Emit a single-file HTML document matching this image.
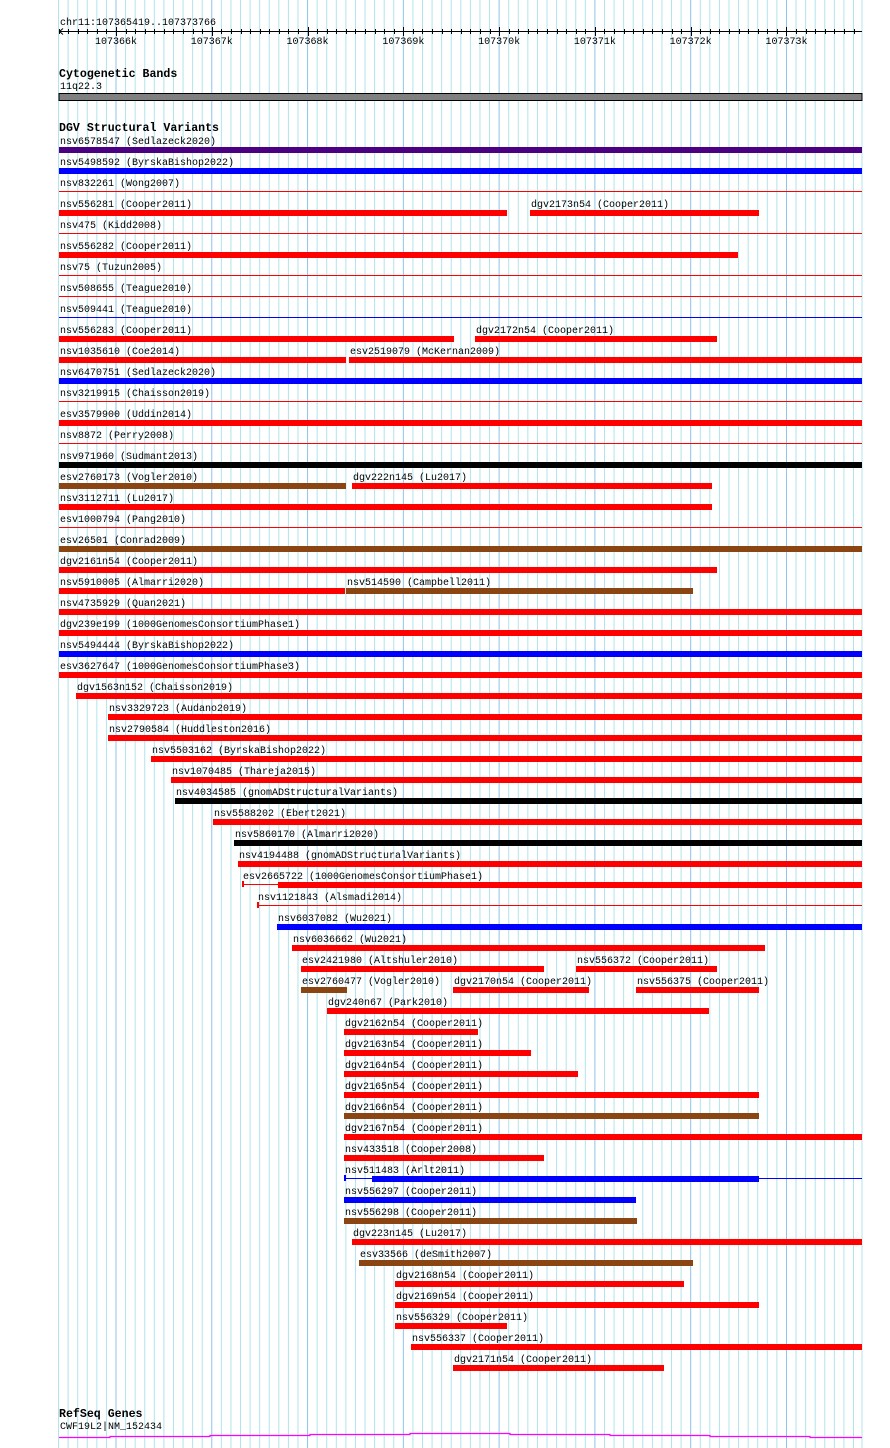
<!DOCTYPE html>
<html><head><meta charset="utf-8"><style>
html,body{margin:0;padding:0;background:#fff;}
svg{display:block;}
text{font-family:"Liberation Mono",monospace;font-size:10px;fill:#000;}
.b{font-weight:bold;font-size:11.6px;}
</style></head><body>
<svg id="s" width="890" height="1448" xmlns="http://www.w3.org/2000/svg"></svg>
<script>
var s=document.getElementById('s'),h='';
var step=9.578;
for(var j=-6;j<=78;j++){var x=116+step*j;if(x>862.5)break;var maj=((j%10)+10)%10==0;
h+='<line x1="'+x+'" y1="0" x2="'+x+'" y2="1448" stroke="'+(maj?'#8cc4ea':'#b0e4ec')+'" stroke-width="1"/>';}
h+='<line x1="862" y1="0" x2="862" y2="1448" stroke="#b0e4ec"/>';
h+='<text x="60" y="25">chr11:107365419..107373766</text>';
h+='<line x1="59" y1="31.5" x2="862" y2="31.5" stroke="#000"/>';
h+='<path d="M63 28.5 L59.5 31.5 L63 34.5" fill="none" stroke="#000"/>';
for(var j=-6;j<=78;j++){var x=Math.round(116+step*j)+0.5;if(x>862)break;var maj=((j%10)+10)%10==0;
h+='<line x1="'+x+'" y1="'+(maj?27:29)+'" x2="'+x+'" y2="'+(maj?36:34)+'" stroke="#000"/>';}
for(var k=0;k<8;k++){h+='<text x="'+(116+95.78*k)+'" y="44" text-anchor="middle">'+(107366+k)+'k</text>';}
h+='<text class="b" x="59" y="77">Cytogenetic Bands</text><text x="60" y="89">11q22.3</text>';
h+='<rect x="59" y="93.5" width="803" height="7" fill="#808080" stroke="#000"/>';
h+='<text class="b" x="59" y="131">DGV Structural Variants</text>';
var R='#ff0000',B='#0000ff',P='#4b0082',N='#8b4513',K='#000';
var rows=[
[0,'nsv6578547 (Sedlazeck2020)',59,862,P,1],
[1,'nsv5498592 (ByrskaBishop2022)',59,862,B,1],
[2,'nsv832261 (Wong2007)',59,862,R,0],
[3,'nsv556281 (Cooper2011)',59,507,R,1],[3,'dgv2173n54 (Cooper2011)',530,759,R,1,530],
[4,'nsv475 (Kidd2008)',59,862,R,0],
[5,'nsv556282 (Cooper2011)',59,738,R,1],
[6,'nsv75 (Tuzun2005)',59,862,R,0],
[7,'nsv508655 (Teague2010)',59,862,R,0],
[8,'nsv509441 (Teague2010)',59,862,B,0],
[9,'nsv556283 (Cooper2011)',59,454,R,1],[9,'dgv2172n54 (Cooper2011)',475,717,R,1,475],
[10,'nsv1035610 (Coe2014)',59,346,R,1],[10,'esv2519079 (McKernan2009)',349,862,R,1,349],
[11,'nsv6470751 (Sedlazeck2020)',59,862,B,1],
[12,'nsv3219915 (Chaisson2019)',59,862,R,0],
[13,'esv3579900 (Uddin2014)',59,862,R,1],
[14,'nsv8872 (Perry2008)',59,862,R,0],
[15,'nsv971960 (Sudmant2013)',59,862,K,1],
[16,'esv2760173 (Vogler2010)',59,346,N,1],[16,'dgv222n145 (Lu2017)',352,712,R,1,352],
[17,'nsv3112711 (Lu2017)',59,712,R,1],
[18,'esv1000794 (Pang2010)',59,862,R,0],
[19,'esv26501 (Conrad2009)',59,862,N,1],
[20,'dgv2161n54 (Cooper2011)',59,717,R,1],
[21,'nsv5910005 (Almarri2020)',59,345,R,1],[21,'nsv514590 (Campbell2011)',346,693,N,1,346],
[22,'nsv4735929 (Quan2021)',59,862,R,1],
[23,'dgv239e199 (1000GenomesConsortiumPhase1)',59,862,R,1],
[24,'nsv5494444 (ByrskaBishop2022)',59,862,B,1],
[25,'esv3627647 (1000GenomesConsortiumPhase3)',59,862,R,1],
[26,'dgv1563n152 (Chaisson2019)',76,862,R,1],
[27,'nsv3329723 (Audano2019)',108,862,R,1],
[28,'nsv2790584 (Huddleston2016)',108,862,R,1],
[29,'nsv5503162 (ByrskaBishop2022)',151,862,R,1],
[30,'nsv1070485 (Thareja2015)',171,862,R,1],
[31,'nsv4034585 (gnomADStructuralVariants)',175,862,K,1],
[32,'nsv5588202 (Ebert2021)',213,862,R,1],
[33,'nsv5860170 (Almarri2020)',234,862,K,1],
[34,'nsv4194488 (gnomADStructuralVariants)',238,862,R,1],
[35,'esv2665722 (1000GenomesConsortiumPhase1)',278,862,R,1,242],
[36,'nsv1121843 (Alsmadi2014)',257,862,R,0],
[37,'nsv6037082 (Wu2021)',277,862,B,1],
[38,'nsv6036662 (Wu2021)',292,765,R,1],
[39,'esv2421980 (Altshuler2010)',301,544,R,1],[39,'nsv556372 (Cooper2011)',576,717,R,1,576],
[40,'esv2760477 (Vogler2010)',301,347,N,1],[40,'dgv2170n54 (Cooper2011)',453,589,R,1,453],[40,'nsv556375 (Cooper2011)',636,759,R,1,636],
[41,'dgv240n67 (Park2010)',327,709,R,1],
[42,'dgv2162n54 (Cooper2011)',344,478,R,1],
[43,'dgv2163n54 (Cooper2011)',344,531,R,1],
[44,'dgv2164n54 (Cooper2011)',344,578,R,1],
[45,'dgv2165n54 (Cooper2011)',344,759,R,1],
[46,'dgv2166n54 (Cooper2011)',344,759,N,1],
[47,'dgv2167n54 (Cooper2011)',344,862,R,1],
[48,'nsv433518 (Cooper2008)',344,544,R,1],
[49,'nsv511483 (Arlt2011)',372,759,B,1,344],
[50,'nsv556297 (Cooper2011)',344,636,B,1],
[51,'nsv556298 (Cooper2011)',344,637,N,1],
[52,'dgv223n145 (Lu2017)',352,862,R,1],
[53,'esv33566 (deSmith2007)',359,693,N,1],
[54,'dgv2168n54 (Cooper2011)',395,684,R,1],
[55,'dgv2169n54 (Cooper2011)',395,759,R,1],
[56,'nsv556329 (Cooper2011)',395,507,R,1],
[57,'nsv556337 (Cooper2011)',411,862,R,1],
[58,'dgv2171n54 (Cooper2011)',453,664,R,1]
];
rows.forEach(function(r){var i=r[0],y=21*i;var lx=(r.length>6?r[6]:r[2]);
h+='<text x="'+(lx+1)+'" y="'+(144+y)+'">'+r[1]+'</text>';
if(r[5])h+='<rect x="'+r[2]+'" y="'+(147+y)+'" width="'+(r[3]-r[2])+'" height="6" fill="'+r[4]+'"/>';
else h+='<rect x="'+r[2]+'" y="'+(149+y)+'" width="'+(r[3]-r[2])+'" height="1" fill="'+r[4]+'"/>';});
// special connectors
function thin(i,x1,x2,c){h+='<rect x="'+x1+'" y="'+(149+21*i)+'" width="'+(x2-x1)+'" height="1" fill="'+c+'"/>';}
function tick(i,x,c){h+='<rect x="'+x+'" y="'+(146+21*i)+'" width="2" height="6" fill="'+c+'"/>';}
thin(35,242,278,R);tick(35,242,R);
tick(36,257,R);
thin(49,344,372,B);tick(49,344,B);thin(49,759,862,B);
h+='<text class="b" x="59" y="1417">RefSeq Genes</text><text x="60" y="1429">CWF19L2|NM_152434</text>';
h+='<path d="M59 1437.5 H110 V1436.5 H210 V1435.5 H310 V1434.5 H410 V1433.5 H510 V1434.5 H610 V1435.5 H710 V1436.5 H810 V1437.5 H862" fill="none" stroke="#ff00ff" stroke-width="1.2"/>';
s.innerHTML=h;
</script>
</body></html>
